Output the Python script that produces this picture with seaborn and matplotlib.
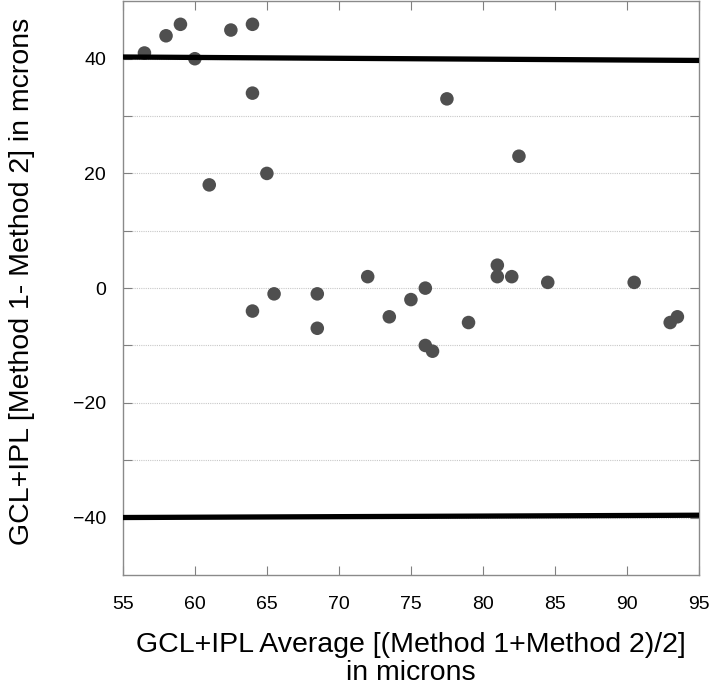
import matplotlib
matplotlib.use("Agg")
import matplotlib.pyplot as plt
import seaborn as sns
import pandas as pd

# Data
avg = [56.5, 58.0, 59.0, 60.0, 62.5, 64.0, 64.0, 61.0, 65.0, 64.0, 65.5, 68.5, 68.5,
       77.5, 82.5, 72.0, 73.5, 75.0, 76.0, 79.0, 81.0, 81.0, 82.0, 84.5, 90.5, 93.0, 93.5,
       76.0, 76.5]
diff = [41, 44, 46, 40, 45, 46, 34, 18, 20, -4, -1, -1, -7,
        33, 23, 2, -5, -2, 0, -6, 4, 2, 2, 1, 1, -6, -5,
        -10, -11]

# limits of agreement, as drawn (left end, right end)
loa_x = [55, 95]
upper_loa = [40.3, 39.7]
lower_loa = [-40.0, -39.6]

df = pd.DataFrame({"Average": avg, "Difference": diff})

sns.set_style("white")
plt.rcParams["font.family"] = ["Liberation Sans", "DejaVu Sans"]
plt.rcParams["text.color"] = "black"
plt.rcParams["axes.labelcolor"] = "black"
plt.rcParams["xtick.labelcolor"] = "black"
plt.rcParams["ytick.labelcolor"] = "black"

fig = plt.figure(figsize=(7.1, 6.86), dpi=100)
ax = fig.add_axes([0.173, 0.162, 0.8115, 0.836])

# grid lines every 10
for yv in range(-40, 50, 10):
    ax.axhline(yv, color="#c8c8c8", lw=0.8, ls=(0, (1, 1)), zorder=0)

sns.scatterplot(data=df, x="Average", y="Difference", ax=ax, color="#4f4f4f",
                s=95, edgecolor="none", zorder=3)

sns.lineplot(x=loa_x, y=upper_loa, ax=ax, color="black", lw=3.8, zorder=4)
sns.lineplot(x=loa_x, y=lower_loa, ax=ax, color="black", lw=3.8, zorder=4)

ax.set_xlim(55, 95)
ax.set_ylim(-50, 50)
ax.set_xticks(range(55, 96, 5))
ax.set_yticks([-40, -20, 0, 20, 40])
ax.set_yticks([-30, -10, 10, 30], minor=True)

ax.tick_params(axis="both", which="both", direction="in", length=6.5, width=0.8,
               color="#808080", top=True, bottom=True, left=True, right=True,
               labelsize=14)
ax.tick_params(axis="x", pad=15)
ax.tick_params(axis="y", pad=12)

for sp in ax.spines.values():
    sp.set_color("#8a8a8a")
    sp.set_linewidth(1.0)

ax.set_xlabel("GCL+IPL Average [(Method 1+Method 2)/2]\nin microns", fontsize=20.5,
              labelpad=14, linespacing=1.1)
ax.set_ylabel("GCL+IPL [Method 1- Method 2] in mcrons", fontsize=20.5, va="center")
ax.yaxis.set_label_coords(-0.175, 0.512)

fig.savefig("out.png", dpi=100)
